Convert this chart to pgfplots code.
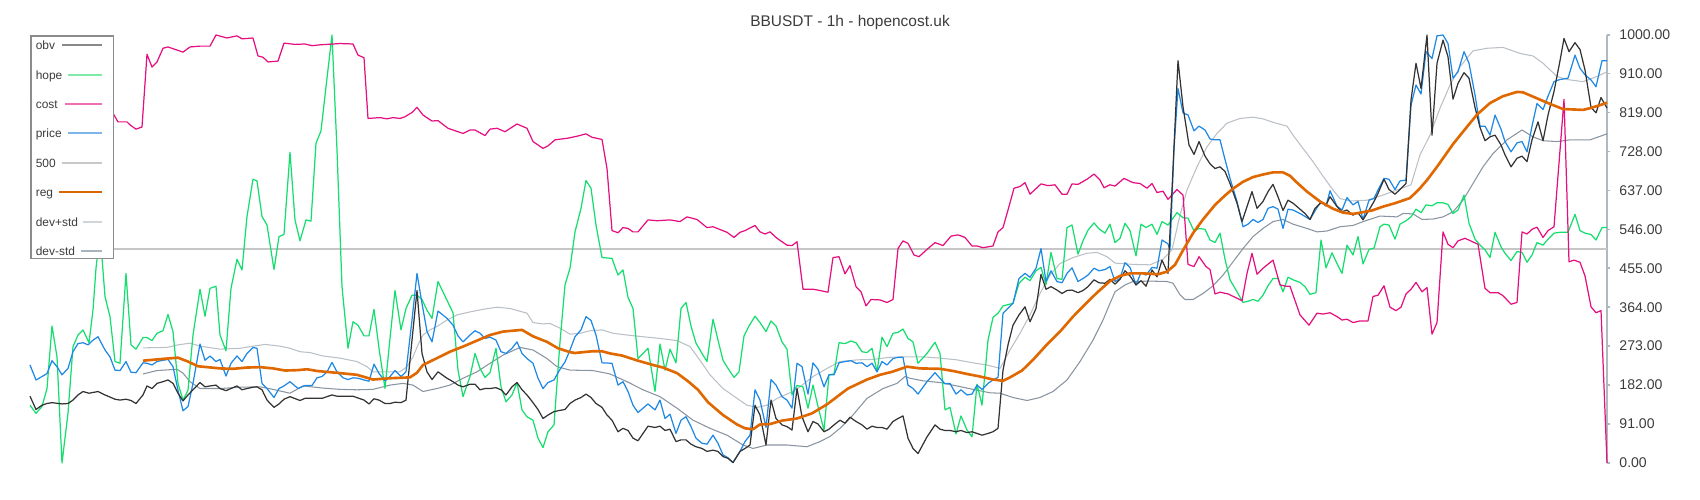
\documentclass[border=0pt]{standalone}
\usepackage{fontspec}
\setmainfont{Liberation Sans}
\usepackage{pgfplots}
\pgfplotsset{compat=1.18}

\definecolor{obvC}{RGB}{51,51,51}
\definecolor{hopeC}{RGB}{20,222,110}
\definecolor{costC}{RGB}{228,16,128}
\definecolor{priceC}{RGB}{30,136,229}
\definecolor{fiveC}{RGB}{198,198,198}
\definecolor{regC}{RGB}{224,104,0}
\definecolor{devpC}{RGB}{186,192,198}
\definecolor{devmC}{RGB}{136,148,160}
\definecolor{obvL}{RGB}{136,136,136}
\definecolor{hopeL}{RGB}{128,234,170}
\definecolor{costL}{RGB}{238,112,176}
\definecolor{priceL}{RGB}{126,182,236}
\definecolor{fiveL}{RGB}{200,200,200}
\definecolor{regL}{RGB}{217,100,0}
\definecolor{devpL}{RGB}{208,213,218}
\definecolor{devmL}{RGB}{170,178,186}
\definecolor{axisC}{RGB}{176,184,192}
\definecolor{textC}{RGB}{60,60,60}
\definecolor{legBorder}{RGB}{140,140,140}

% legend line: right ends aligned, drawn back from the cell origin
\pgfplotsset{legl/.style 2 args={legend image code/.code={\draw[overlay,#1,line width=0.2mm] (-#2,-0.1mm) -- (0,-0.1mm); \path (0,0) (0.53mm,0);}}}

\begin{document}
\begin{tikzpicture}
\useasboundingbox (-3mm,-3.7mm) rectangle (167mm,46.3mm);
\begin{axis}[
    scale only axis, width=157.7mm, height=42.8mm,
    xmin=30, xmax=1607, ymin=0, ymax=1000,
    axis x line=none,
    axis y line*=right,
    y axis line style={color=axisC, line width=0.45pt},
    ytick={0,91,182,273,364,455,546,637,728,819,910,1000},
    tick align=outside, major tick length=0.3mm,
    tick style={color=axisC, line width=0.45pt},
    yticklabel style={font=\fontsize{4}{5}\selectfont, text=textC, xshift=-0.3mm,
        /pgf/number format/.cd, fixed, fixed zerofill, precision=2, 1000 sep={}, assume math mode=true},
    title={BBUSDT - 1h - hopencost.uk},
    every axis title shift=0pt,
    title style={at={(0.52,1)}, anchor=base, yshift=0.8mm, inner sep=0pt,
        font=\fontsize{4.4}{5}\selectfont, text=textC},
    clip=false,
    legend plot pos=right,
    legend cell align=left,
    legend style={at={(0,1)}, anchor=north west, draw=legBorder, line width=0.45pt,
        fill=white, font=\fontsize{3.4}{4}\selectfont, text=textC,
        inner xsep=0.5mm, inner ysep=0.15mm, row sep=1.54mm, column sep=2.27mm,
        nodes={inner sep=0pt, text height=1.25mm, text depth=0.15mm, text width=4.3mm}},
    every axis plot/.append style={line join=round},
]
\addlegendimage{legl={obvL}{4mm}}\addlegendentry{obv}
\addlegendimage{legl={hopeL}{3.4mm}}\addlegendentry{hope}
\addlegendimage{legl={costL}{3.7mm}}\addlegendentry{cost}
\addlegendimage{legl={priceL}{3.4mm}}\addlegendentry{price}
\addlegendimage{legl={fiveL}{4mm}}\addlegendentry{500}
\addlegendimage{legl={regL}{4.3mm}}\addlegendentry{reg}
\addlegendimage{legl={devpL}{1.9mm}}\addlegendentry{dev+std}
\addlegendimage{legl={devmL}{2.1mm}}\addlegendentry{dev-std}

% 500
\addplot[forget plot, fiveC, line width=0.5pt] coordinates {(30,500) (1607,500)};

% dev+std
\addplot[forget plot, devpC, line width=0.3pt] coordinates {
(143,269) (167,270) (178,276) (190,280) (200,273) (220,266) (240,268) (253,273) (265,277) (280,273)
(290,268) (300,260) (310,258) (323,250) (340,245) (357,237) (367,225) (373,213) (383,213) (400,213)
(407,225) (413,248) (418,276) (423,299) (430,311) (437,319) (447,334) (457,346) (470,353) (483,359)
(497,364) (510,361) (527,350) (533,328) (543,325) (550,326) (560,315) (570,301) (580,303) (590,309)
(602,311) (613,303) (627,299) (643,295) (660,291) (677,286) (690,272) (700,240) (710,206) (723,174)
(737,151) (747,135) (757,130) (767,135) (777,151) (790,164) (800,178) (813,202) (827,221) (840,237)
(857,241) (873,242) (890,247) (907,248) (923,248) (940,245) (957,241) (973,234) (987,229) (1000,221)
(1010,264) (1020,303) (1030,346) (1040,396) (1050,439) (1060,466) (1073,480) (1087,490) (1097,492)
(1107,482) (1115,467) (1133,464) (1150,463) (1163,476) (1172,498) (1180,579) (1187,638) (1197,692)
(1207,739) (1217,770) (1227,794) (1240,805) (1253,808) (1263,804) (1273,796) (1287,787) (1293,766)
(1303,735) (1313,704) (1323,670) (1333,638) (1340,618) (1350,612) (1367,614) (1383,626) (1397,638)
(1411,650) (1420,720) (1430,766) (1440,829) (1450,883) (1460,926) (1473,963) (1487,969) (1503,971)
(1520,957) (1533,951) (1543,934) (1557,903) (1567,896) (1583,891) (1597,903) (1607,914)};

% dev-std
\addplot[forget plot, devmC, line width=0.3pt] coordinates {
(143,208) (157,216) (177,219) (183,210) (190,190) (200,174) (220,174) (240,177) (260,178) (273,172)
(290,163) (303,180) (323,175) (340,172) (357,171) (373,172) (390,182) (403,186) (413,182) (423,167)
(437,174) (450,182) (463,198) (477,213) (490,233) (503,252) (520,270) (533,264) (547,244) (557,225)
(570,217) (593,216) (610,208) (627,190) (643,171) (660,155) (677,128) (693,100) (710,81) (727,65)
(743,42) (753,34) (767,42) (787,42) (807,38) (820,50) (830,62) (840,81) (850,104) (867,151) (883,174)
(897,186) (905,202) (910,198) (923,192) (940,188) (957,180) (973,172) (990,164) (1000,163) (1013,153)
(1027,146) (1040,153) (1053,167) (1067,194) (1080,237) (1093,287) (1103,334) (1110,373) (1115,400)
(1125,416) (1133,424) (1150,425) (1167,424) (1173,420) (1180,393) (1185,382) (1193,382) (1203,396)
(1213,414) (1223,439) (1233,470) (1243,501) (1253,529) (1263,548) (1273,564) (1283,569) (1293,558)
(1307,548) (1317,540) (1327,542) (1340,552) (1353,555) (1363,564) (1380,577) (1397,575) (1403,583)
(1413,582) (1422,569) (1433,570) (1443,575) (1453,587) (1463,614) (1473,653) (1483,692) (1493,723)
(1507,755) (1522,778) (1533,762) (1543,753) (1557,751) (1570,755) (1590,755) (1607,769)};

% hope
\addplot[forget plot, hopeC, line width=0.35pt] coordinates {
(30,135) (36,116) (42,132) (47,174) (52,320) (57,248) (62,0) (68,116) (73,272) (78,299) (83,311)
(89,281) (93,357) (96,455) (100,540) (105,389) (110,342) (115,237) (120,233) (126,443) (131,276)
(136,266) (143,293) (147,293) (152,286) (157,303) (163,309) (168,347) (173,307) (178,186) (183,147)
(188,170) (193,299) (200,406) (205,343) (210,408) (216,413) (220,299) (226,262) (231,408) (237,476)
(242,451) (247,576) (253,663) (257,659) (262,576) (267,556) (274,452) (279,529) (284,534) (290,726)
(295,568) (300,519) (306,568) (311,565) (316,747) (321,776) (326,879) (332,1000) (337,731) (342,412)
(348,268) (353,330) (358,322) (364,297) (369,297) (374,359) (379,268) (385,174) (390,291) (395,403)
(401,311) (406,361) (412,392) (417,392) (422,382) (427,357) (432,338) (438,424) (453,351) (458,217)
(463,155) (470,202) (475,256) (480,221) (485,200) (490,211) (496,268) (501,178) (506,143) (512,159)
(517,188) (522,124) (527,108) (533,100) (538,58) (543,36) (548,73) (554,89) (560,283) (565,416)
(570,455) (575,540) (581,595) (586,660) (591,642) (596,556) (602,480) (612,478) (618,439) (623,451)
(628,387) (633,361) (638,244) (648,268) (655,167) (660,278) (665,217) (670,266) (676,234) (681,361)
(686,375) (691,320) (696,280) (702,256) (707,237) (713,336) (718,287) (723,240) (728,221) (734,200)
(739,213) (744,297) (749,320) (755,343) (760,328) (766,307) (771,332) (776,320) (782,283) (787,266)
(792,159) (797,181) (803,178) (808,128) (813,182) (818,132) (824,76) (829,206) (834,208) (839,281)
(845,279) (851,285) (856,281) (862,260) (867,258) (872,268) (877,213) (882,294) (887,272) (893,303)
(898,305) (903,313) (908,291) (913,283) (918,233) (927,256) (935,282) (940,256) (945,124) (950,130)
(956,68) (961,110) (967,77) (972,61) (977,184) (982,135) (988,287) (993,340) (998,350) (1003,367)
(1013,373) (1019,420) (1025,434) (1030,426) (1036,449) (1041,457) (1046,417) (1051,492) (1057,431)
(1062,429) (1067,550) (1072,556) (1078,488) (1083,519) (1088,544) (1094,561) (1099,547) (1105,537)
(1110,558) (1115,515) (1120,525) (1125,560) (1130,543) (1136,484) (1141,558) (1146,550) (1152,558)
(1157,534) (1162,564) (1168,556) (1177,585) (1183,573) (1188,572) (1194,542) (1199,548) (1205,546)
(1210,521) (1215,515) (1220,537) (1225,476) (1230,428) (1237,400) (1243,375) (1248,378) (1253,382)
(1258,378) (1263,392) (1268,414) (1273,431) (1278,431) (1283,400) (1288,434) (1293,428) (1300,422)
(1305,412) (1310,394) (1316,398) (1321,521) (1326,456) (1332,491) (1337,466) (1342,443) (1347,509)
(1353,486) (1358,529) (1363,465) (1369,499) (1374,502) (1380,552) (1384,558) (1389,556) (1395,523)
(1400,558) (1406,566) (1411,575) (1416,593) (1421,585) (1426,603) (1432,601) (1437,608) (1443,608)
(1448,604) (1453,583) (1458,591) (1464,626) (1469,560) (1475,523) (1480,509) (1485,498) (1490,480)
(1495,539) (1501,505) (1505,490) (1511,473) (1517,494) (1522,492) (1527,469) (1532,486) (1537,515)
(1543,509) (1548,523) (1554,537) (1560,539) (1568,539) (1575,581) (1580,543) (1585,537) (1591,534)
(1596,521) (1602,550) (1607,550)};

% cost
\addplot[forget plot, costC, line width=0.35pt] coordinates {
(30,840) (60,832) (90,836) (111,825) (118,797) (127,797) (130,790) (136,780) (142,785) (147,955)
(152,925) (157,937) (163,969) (168,972) (183,960) (190,972) (200,974) (210,974) (216,1000) (227,993)
(237,998) (242,991) (253,993) (258,951) (263,948) (268,937) (278,939) (284,981) (295,978) (305,979)
(312,975) (320,977) (340,980) (353,979) (358,953) (364,947) (368,805) (380,807) (387,804) (393,807)
(400,805) (405,809) (412,819) (417,831) (423,813) (432,799) (438,800) (448,782) (463,770) (470,778)
(475,778) (485,765) (490,780) (497,782) (505,774) (517,792) (527,782) (533,751) (543,735) (548,741)
(555,755) (568,759) (578,764) (586,769) (592,761) (602,756) (607,688) (612,543) (618,538) (623,550)
(628,548) (633,540) (638,540) (648,568) (657,566) (670,568) (680,564) (687,575) (697,569) (707,550)
(713,552) (727,539) (734,527) (740,539) (745,543) (755,555) (760,540) (765,535) (770,540) (777,525)
(787,509) (792,508) (797,517) (803,406) (813,406) (820,403) (828,399) (833,480) (839,482) (845,442)
(850,461) (856,412) (861,400) (866,367) (871,382) (880,381) (887,375) (893,382) (898,501) (903,519)
(908,513) (914,486) (919,482) (927,499) (935,515) (943,508) (951,530) (958,533) (965,527) (972,507)
(977,507) (983,503) (993,507) (998,540) (1003,550) (1008,591) (1014,642) (1020,646) (1025,655)
(1030,628) (1041,652) (1048,648) (1055,650) (1062,628) (1067,628) (1072,652) (1078,651) (1087,663)
(1094,675) (1100,661) (1104,643) (1110,650) (1115,647) (1124,665) (1133,655) (1140,653) (1147,642)
(1152,653) (1157,632) (1163,635) (1168,616) (1177,639) (1183,626) (1188,464) (1194,459) (1199,482)
(1206,459) (1210,452) (1215,395) (1220,399) (1228,395) (1237,385) (1242,379) (1247,443) (1252,490)
(1257,441) (1263,455) (1273,474) (1280,416) (1286,413) (1290,413) (1300,346) (1309,322) (1317,350)
(1323,348) (1330,351) (1337,342) (1342,334) (1347,336) (1353,328) (1360,332) (1368,332) (1373,389)
(1378,392) (1384,414) (1390,364) (1396,356) (1401,364) (1406,395) (1411,406) (1416,422) (1422,400)
(1427,410) (1432,301) (1437,328) (1443,540) (1448,511) (1453,503) (1458,519) (1465,525) (1478,511)
(1485,408) (1490,398) (1498,398) (1503,391) (1511,371) (1517,375) (1522,540) (1527,535) (1532,546)
(1537,551) (1543,527) (1548,543) (1554,552) (1564,850) (1569,470) (1574,474) (1580,469) (1585,437)
(1591,365) (1596,351) (1601,356) (1607,0)};

% price
\addplot[forget plot, priceC, line width=0.35pt] coordinates {
(30,229) (36,194) (42,202) (47,209) (52,239) (57,225) (62,206) (68,221) (73,260) (78,279) (83,281)
(88,276) (93,287) (98,295) (105,264) (110,248) (115,217) (120,216) (126,237) (131,212) (136,211)
(143,234) (147,233) (152,229) (157,237) (163,240) (168,242) (173,225) (178,170) (183,122) (188,132)
(193,186) (200,278) (205,240) (210,250) (216,237) (220,242) (226,203) (231,233) (237,250) (242,237)
(247,256) (253,270) (257,268) (262,186) (267,174) (274,153) (279,174) (284,180) (290,190) (298,174)
(305,181) (312,181) (317,199) (322,202) (327,213) (332,235) (337,213) (343,199) (348,195) (353,199)
(358,198) (364,194) (369,191) (374,231) (379,209) (385,192) (390,202) (395,216) (401,202) (406,213)
(412,334) (417,443) (422,373) (427,307) (432,283) (438,355) (447,338) (453,322) (458,297) (463,283)
(470,299) (475,309) (480,303) (485,291) (490,294) (496,287) (501,260) (506,256) (512,268) (517,283)
(522,256) (527,244) (533,233) (538,198) (543,174) (548,188) (554,194) (560,219) (565,236) (570,264)
(575,295) (581,311) (586,342) (591,333) (596,299) (602,234) (612,233) (618,182) (623,190) (628,167)
(633,135) (638,118) (643,128) (648,138) (655,124) (660,147) (665,104) (670,114) (676,69) (681,100)
(686,108) (691,85) (696,58) (702,46) (707,44) (713,65) (718,46) (723,19) (728,12) (733,1) (740,27)
(745,50) (750,65) (755,171) (760,147) (766,83) (771,195) (776,182) (782,155) (787,147) (792,128)
(797,233) (802,225) (808,161) (813,234) (818,219) (824,178) (829,206) (834,206) (839,234) (845,237)
(851,239) (856,233) (862,234) (867,225) (872,233) (877,213) (882,237) (887,229) (893,244) (898,247)
(903,247) (908,182) (913,174) (918,161) (927,190) (935,211) (940,198) (945,185) (950,186) (956,161)
(961,171) (967,159) (972,161) (977,182) (982,172) (988,186) (993,194) (998,200) (1003,350) (1013,373)
(1019,431) (1025,443) (1030,434) (1036,455) (1041,501) (1046,424) (1051,449) (1057,424) (1062,421)
(1067,443) (1072,456) (1078,424) (1083,431) (1088,439) (1094,455) (1099,449) (1105,452) (1110,459)
(1115,424) (1120,431) (1125,468) (1130,457) (1136,416) (1141,445) (1146,439) (1152,457) (1157,455)
(1162,521) (1168,512) (1170,498) (1174,735) (1178,875) (1183,818) (1188,813) (1194,776) (1199,787)
(1205,778) (1210,757) (1215,755) (1220,755) (1225,709) (1230,665) (1237,611) (1243,552) (1248,558)
(1253,569) (1258,562) (1263,569) (1268,595) (1273,599) (1278,593) (1283,548) (1288,593) (1293,591)
(1300,583) (1305,576) (1310,569) (1316,593) (1321,611) (1326,600) (1330,636) (1337,600) (1342,591)
(1347,620) (1353,603) (1358,611) (1363,569) (1369,614) (1374,618) (1378,638) (1384,665) (1389,663)
(1395,639) (1400,659) (1406,661) (1411,836) (1416,883) (1421,862) (1426,961) (1432,945) (1437,998)
(1443,1000) (1448,980) (1453,899) (1458,914) (1464,961) (1469,934) (1475,860) (1480,787) (1485,787)
(1490,766) (1495,813) (1501,780) (1505,751) (1511,727) (1517,748) (1522,751) (1527,727) (1532,787)
(1537,840) (1543,826) (1548,857) (1554,891) (1560,896) (1568,899) (1575,953) (1580,922) (1585,907)
(1591,895) (1596,879) (1602,940) (1607,940)};

% obv
\addplot[forget plot, obvC, line width=0.35pt] coordinates {
(30,156) (36,125) (42,135) (47,139) (52,141) (62,138) (68,139) (73,147) (78,159) (83,167) (89,163)
(98,167) (105,159) (115,149) (120,147) (126,149) (131,146) (136,139) (143,159) (147,180) (152,174)
(157,186) (163,190) (168,194) (173,186) (178,163) (183,145) (188,159) (193,171) (200,188) (205,178)
(210,180) (216,182) (220,174) (226,169) (231,174) (237,180) (242,171) (247,174) (253,177) (257,178)
(262,171) (267,147) (274,130) (279,138) (284,149) (290,155) (300,146) (305,151) (312,151) (322,151)
(332,159) (337,156) (353,156) (364,147) (369,138) (374,150) (379,147) (385,139) (390,139) (395,142)
(401,141) (406,147) (412,287) (417,403) (422,256) (427,213) (432,195) (438,213) (447,198) (453,190)
(458,182) (463,178) (470,184) (475,184) (480,171) (485,174) (490,174) (496,176) (501,171) (506,159)
(512,178) (517,188) (522,171) (527,159) (533,141) (538,125) (543,104) (548,112) (554,120) (560,123)
(565,125) (570,139) (575,147) (581,153) (586,161) (591,153) (596,139) (602,130) (607,112) (612,100)
(618,73) (623,81) (628,76) (633,58) (638,52) (643,69) (648,86) (655,83) (660,86) (665,76) (670,79)
(676,50) (681,54) (686,54) (691,44) (696,38) (702,34) (707,27) (713,30) (718,27) (723,15) (728,11)
(733,1) (740,27) (745,34) (750,42) (755,135) (760,112) (766,42) (771,147) (776,104) (782,89) (787,85)
(792,77) (797,174) (802,108) (808,73) (813,97) (818,91) (824,73) (829,79) (834,89) (840,100) (845,93)
(850,107) (856,97) (862,89) (867,79) (872,86) (877,83) (882,83) (887,79) (893,97) (898,104) (903,110)
(908,58) (913,34) (918,22) (927,61) (935,89) (940,79) (945,76) (950,76) (956,73) (961,76) (967,71)
(972,73) (977,69) (982,65) (988,69) (993,73) (998,81) (1003,217) (1008,276) (1013,322) (1019,346)
(1025,365) (1030,330) (1036,361) (1041,441) (1046,406) (1051,412) (1057,404) (1062,396) (1067,403)
(1072,404) (1078,398) (1083,403) (1088,412) (1094,428) (1099,421) (1105,420) (1110,429) (1115,418)
(1120,429) (1125,449) (1130,437) (1136,416) (1141,426) (1146,413) (1152,451) (1157,435) (1162,474)
(1168,443) (1173,688) (1178,940) (1183,832) (1189,743) (1194,721) (1199,751) (1205,717) (1210,699)
(1215,688) (1220,692) (1225,681) (1230,653) (1237,607) (1242,564) (1247,599) (1252,634) (1257,595)
(1263,611) (1268,634) (1273,651) (1278,622) (1283,590) (1288,614) (1293,607) (1300,593) (1305,583)
(1310,569) (1315,595) (1321,608) (1326,603) (1330,622) (1337,599) (1342,587) (1347,591) (1353,579)
(1358,585) (1363,568) (1369,591) (1374,611) (1378,630) (1384,663) (1389,639) (1395,628) (1400,639)
(1406,653) (1411,848) (1416,934) (1421,875) (1427,1000) (1432,766) (1437,934) (1443,988) (1448,949)
(1453,850) (1458,887) (1464,912) (1469,899) (1475,831) (1480,784) (1485,753) (1490,762) (1495,766)
(1501,743) (1505,720) (1511,692) (1517,712) (1522,717) (1527,704) (1532,755) (1538,797) (1543,753)
(1548,813) (1554,868) (1560,940) (1564,992) (1569,961) (1575,982) (1580,966) (1585,918) (1591,831)
(1596,818) (1601,854) (1607,829)};

% reg
\addplot[forget plot, regC, line width=0.75pt] coordinates {
(143,239) (157,242) (167,244) (178,246) (188,237) (198,226) (207,224) (220,221) (233,220) (247,223)
(260,224) (273,221) (285,216) (298,217) (307,219) (317,215) (340,210) (357,206) (373,195) (390,198)
(410,200) (417,211) (423,229) (437,245) (450,260) (463,272) (477,286) (490,299) (503,307) (522,311)
(533,296) (547,283) (558,268) (570,259) (575,257) (592,261) (602,261) (610,256) (622,251) (638,239)
(653,229) (663,223) (677,210) (688,191) (698,171) (708,142) (723,112) (737,90) (745,81) (753,79)
(760,90) (770,91) (782,99) (797,104) (812,116) (827,137) (840,160) (848,174) (867,195) (880,206)
(892,213) (907,225) (920,221) (940,220) (953,215) (967,208) (980,202) (993,195) (1003,192) (1010,200)
(1022,216) (1033,241) (1047,277) (1060,307) (1073,342) (1087,375) (1097,398) (1110,425) (1120,437)
(1130,443) (1143,443) (1158,441) (1167,447) (1175,463) (1183,497) (1193,537) (1203,569) (1215,603)
(1225,625) (1233,641) (1243,657) (1253,668) (1263,674) (1273,679) (1283,679) (1290,671) (1297,655)
(1307,634) (1320,611) (1333,594) (1343,585) (1353,582) (1363,586) (1372,590) (1383,599) (1395,607)
(1410,619) (1420,642) (1427,661) (1437,692) (1453,745) (1463,774) (1477,814) (1490,841) (1503,857)
(1517,867) (1523,866) (1537,852) (1550,839) (1563,827) (1583,825) (1590,829) (1600,836) (1607,842)};
\end{axis}
\end{tikzpicture}
\end{document}
